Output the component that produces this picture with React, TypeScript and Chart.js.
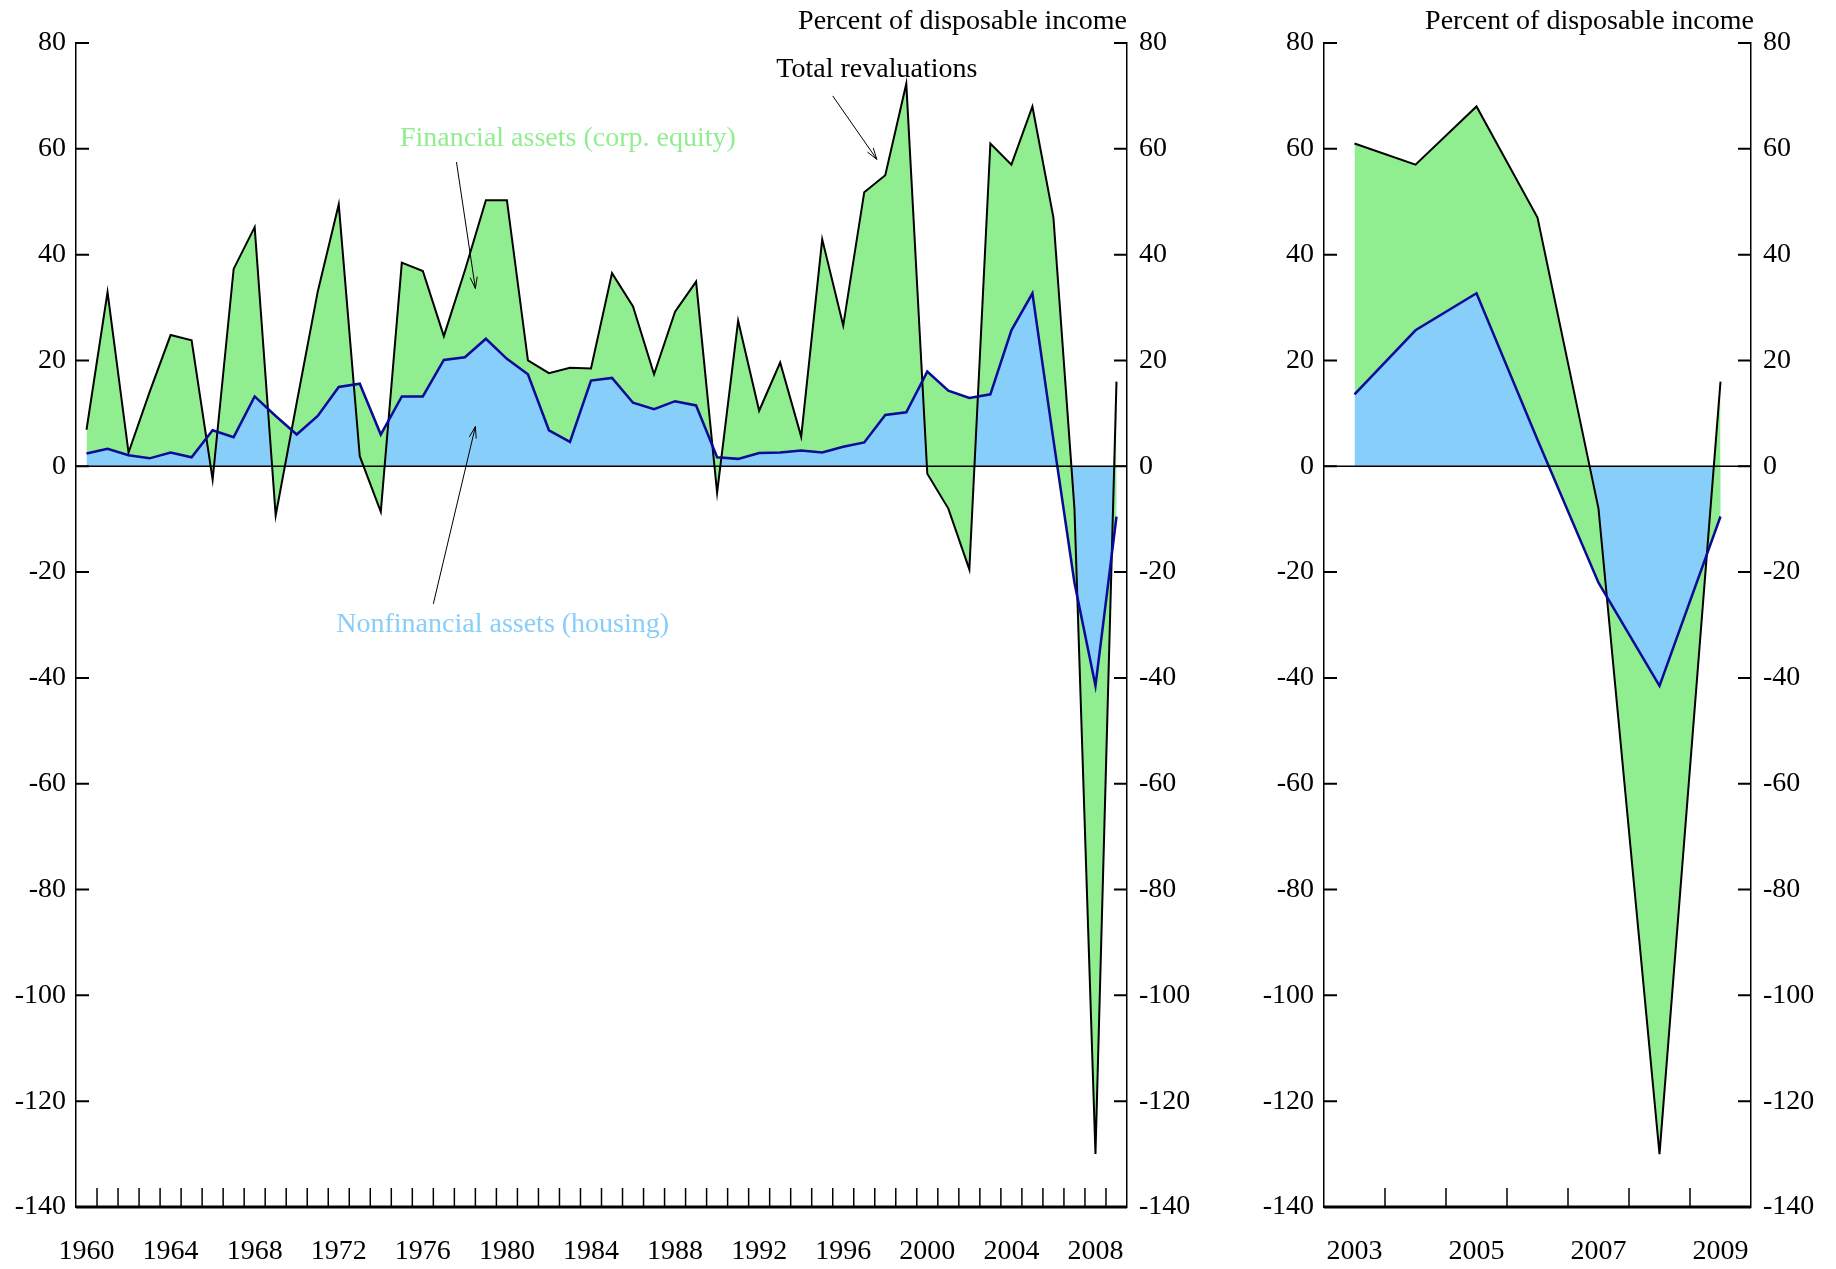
import { useEffect, useRef } from 'react';
import { Chart, registerables } from 'chart.js';

Chart.register(...registerables);

const years = Array.from({ length: 50 }, (_, i) => 1960 + i);

const totalRevaluations = [
  6.9, 32.9, 2.6, 14, 24.8, 23.8, -2.5, 37.3, 45.2, -9.3,
  12, 33, 49.5, 1.9, -8.6, 38.5, 36.9, 24.6, 37, 50.3,
  50.3, 20, 17.6, 18.6, 18.5, 36.5, 30.2, 17.4, 29.2, 34.9,
  -5, 27.5, 10.5, 19.6, 5.6, 42.9, 26.6, 51.8, 55, 72.3,
  -1.4, -8, -19.5, 61, 57, 68, 47, -8, -130, 16,
];

const housing = [
  2.4, 3.3, 2.1, 1.5, 2.6, 1.7, 6.8, 5.5, 13.2, 9.5,
  6, 9.5, 15, 15.6, 6, 13.2, 13.2, 20.1, 20.6, 24.1,
  20.3, 17.4, 6.8, 4.6, 16.2, 16.7, 12, 10.8, 12.3, 11.5,
  1.7, 1.4, 2.5, 2.6, 3, 2.6, 3.7, 4.5, 9.7, 10.2,
  17.9, 14.3, 12.9, 13.6, 25.7, 32.7, 5, -22, -41.5, -9.5,
];

const leftYearLabels = [1960, 1964, 1968, 1972, 1976, 1980, 1984, 1988, 1992, 1996, 2000, 2004, 2008];
const rightYearLabels = [2003, 2005, 2007, 2009];
const yTicks = [-140, -120, -100, -80, -60, -40, -20, 0, 20, 40, 60, 80];

const GREEN = '#90EE90';
const BLUE = '#87CEFA';
const FONT = '"Liberation Serif", "Times New Roman", serif';
const FONT_SIZE = 28;

interface Note {
  text: string;
  color: string;
  x: number;
  y: number;
  arrowFrom?: [number, number];
  arrowTo?: [number, number];
}

const leftNotes: Note[] = [
  { text: 'Total revaluations', color: '#000', x: 1997.6, y: 75, arrowFrom: [1995.5, 70], arrowTo: [1997.6, 58] },
  { text: 'Financial assets (corp. equity)', color: GREEN, x: 1982.9, y: 62, arrowFrom: [1977.6, 57.5], arrowTo: [1978.5, 33.6] },
  { text: 'Nonfinancial assets (housing)', color: BLUE, x: 1979.8, y: -30, arrowFrom: [1976.5, -26], arrowTo: [1978.5, 7.5] },
];

function makeChart(
  canvas: HTMLCanvasElement,
  from: number,
  to: number,
  labelYears: number[],
  leftWidth: number,
  rightWidth: number,
  notes: Note[],
) {
  const idx = years.map((y, i) => i).filter((i) => years[i] >= from && years[i] <= to);
  const housingPts = idx.map((i) => ({ x: years[i], y: housing[i] }));
  const totalPts = idx.map((i) => ({ x: years[i], y: totalRevaluations[i] }));

  const decorations = {
    id: 'decorations',
    afterDatasetsDraw(chart: any) {
      const { ctx, chartArea, scales } = chart;
      const xs = scales.x;
      const ys = scales.y;
      ctx.save();
      ctx.strokeStyle = '#000';
      // zero line
      ctx.lineWidth = 1.5;
      ctx.beginPath();
      ctx.moveTo(chartArea.left, ys.getPixelForValue(0));
      ctx.lineTo(chartArea.right, ys.getPixelForValue(0));
      ctx.stroke();
      // y tick marks pointing inward
      ctx.lineWidth = 2;
      yTicks.forEach((v) => {
        const py = ys.getPixelForValue(v);
        ctx.beginPath();
        ctx.moveTo(chartArea.left, py);
        ctx.lineTo(chartArea.left + 13, py);
        ctx.moveTo(chartArea.right, py);
        ctx.lineTo(chartArea.right - 13, py);
        ctx.stroke();
      });
      // x tick marks between years
      ctx.lineWidth = 1.5;
      for (let yr = from; yr < to; yr++) {
        const px = xs.getPixelForValue(yr + 0.5);
        ctx.beginPath();
        ctx.moveTo(px, chartArea.bottom);
        ctx.lineTo(px, chartArea.bottom - 19);
        ctx.stroke();
      }
      // bottom axis
      ctx.lineWidth = 3;
      ctx.beginPath();
      ctx.moveTo(chartArea.left, chartArea.bottom);
      ctx.lineTo(chartArea.right, chartArea.bottom);
      ctx.stroke();
      // annotations
      ctx.font = `${FONT_SIZE}px ${FONT}`;
      ctx.textAlign = 'center';
      ctx.textBaseline = 'middle';
      notes.forEach((n) => {
        ctx.fillStyle = n.color;
        ctx.fillText(n.text, xs.getPixelForValue(n.x), ys.getPixelForValue(n.y));
        if (n.arrowFrom && n.arrowTo) {
          const x1 = xs.getPixelForValue(n.arrowFrom[0]);
          const y1 = ys.getPixelForValue(n.arrowFrom[1]);
          const x2 = xs.getPixelForValue(n.arrowTo[0]);
          const y2 = ys.getPixelForValue(n.arrowTo[1]);
          ctx.strokeStyle = '#000';
          ctx.lineWidth = 1;
          ctx.beginPath();
          ctx.moveTo(x1, y1);
          ctx.lineTo(x2, y2);
          const a = Math.atan2(y2 - y1, x2 - x1);
          ctx.moveTo(x2, y2);
          ctx.lineTo(x2 - 12 * Math.cos(a - 0.3), y2 - 12 * Math.sin(a - 0.3));
          ctx.moveTo(x2, y2);
          ctx.lineTo(x2 - 12 * Math.cos(a + 0.3), y2 - 12 * Math.sin(a + 0.3));
          ctx.stroke();
        }
      });
      ctx.restore();
    },
  };

  const yCommon = {
    min: -140,
    max: 80,
    grid: { display: false, drawTicks: false },
    border: { display: true, color: '#000', width: 1.5 },
    afterBuildTicks: (axis: any) => {
      axis.ticks = yTicks.map((v) => ({ value: v }));
    },
    ticks: { font: { family: FONT, size: FONT_SIZE }, color: '#000', padding: 10 },
  };

  return new Chart(canvas, {
    type: 'line',
    data: {
      datasets: [
        {
          data: totalPts,
          borderColor: '#000',
          borderWidth: 2,
          backgroundColor: GREEN,
          fill: 1,
          pointRadius: 0,
          tension: 0,
        },
        {
          data: housingPts,
          borderWidth: 0,
          borderColor: 'rgba(0,0,0,0)',
          backgroundColor: BLUE,
          fill: 'origin',
          pointRadius: 0,
          tension: 0,
        },
        {
          // housing line, drawn on top of everything
          data: housingPts,
          borderColor: '#0A0A96',
          borderWidth: 2.5,
          fill: false,
          pointRadius: 0,
          tension: 0,
          order: -1,
        },
      ],
    },
    options: {
      animation: false,
      responsive: false,
      maintainAspectRatio: false,
      layout: { padding: { top: 43, left: 0, right: 0, bottom: 0 } },
      plugins: { legend: { display: false }, tooltip: { enabled: false } },
      scales: {
        x: {
          type: 'linear',
          min: from - 0.5,
          max: to + 0.5,
          grid: { display: false, drawTicks: false },
          border: { display: false },
          afterBuildTicks: (axis: any) => {
            axis.ticks = labelYears.map((v) => ({ value: v }));
          },
          afterFit: (axis: any) => {
            axis.height = 62;
          },
          ticks: {
            font: { family: FONT, size: FONT_SIZE },
            color: '#000',
            padding: 28,
            maxRotation: 0,
            autoSkip: false,
            callback: (v: any) => String(v),
          },
        },
        y: {
          ...yCommon,
          position: 'left',
          afterFit: (axis: any) => {
            axis.width = leftWidth;
          },
        },
        y2: {
          ...yCommon,
          position: 'right',
          afterFit: (axis: any) => {
            axis.width = rightWidth;
          },
          ticks: { ...yCommon.ticks, padding: 12 },
        },
      },
    },
    plugins: [decorations],
  });
}

export default function App() {
  const leftRef = useRef<HTMLCanvasElement>(null);
  const rightRef = useRef<HTMLCanvasElement>(null);

  useEffect(() => {
    if (!leftRef.current || !rightRef.current) return;
    const left = makeChart(leftRef.current, 1960, 2009, leftYearLabels, 76, 103, leftNotes);
    const right = makeChart(rightRef.current, 2003, 2009, rightYearLabels, 100, 79, []);
    return () => {
      left.destroy();
      right.destroy();
    };
  }, []);

  const titleStyle = {
    position: 'absolute' as const,
    top: 4,
    fontFamily: FONT,
    fontSize: FONT_SIZE,
    color: '#000',
    whiteSpace: 'nowrap' as const,
    textAlign: 'right' as const,
  };

  return (
    <div style={{ position: 'fixed', left: 0, top: 0, width: 1836, height: 1269, background: '#fff' }}>
      <canvas ref={leftRef} width={1230} height={1269} style={{ position: 'absolute', left: 0, top: 0 }} />
      <canvas ref={rightRef} width={606} height={1269} style={{ position: 'absolute', left: 1224, top: 0 }} />
      <div style={{ ...titleStyle, right: 1836 - 1127 }}>Percent of disposable income</div>
      <div style={{ ...titleStyle, right: 1836 - 1754 }}>Percent of disposable income</div>
    </div>
  );
}
